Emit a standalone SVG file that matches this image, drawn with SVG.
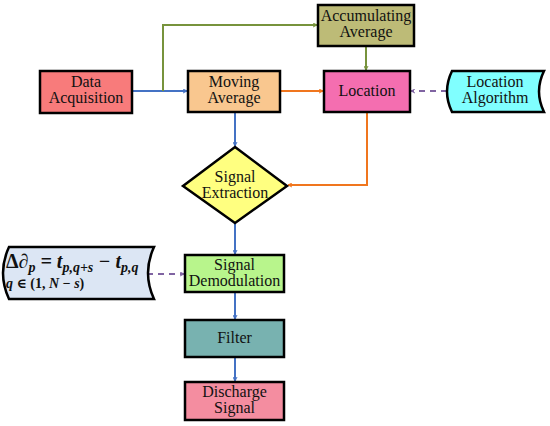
<svg xmlns="http://www.w3.org/2000/svg" width="550" height="426" viewBox="0 0 550 426">
<style>
.box{stroke:#000;stroke-width:2.5}
.lbl{font-family:'Liberation Serif','DejaVu Serif',serif;font-size:16px;fill:#111;text-anchor:middle}
.c{fill:none;stroke-width:2}
.blue{stroke:#4472C4}
.green{stroke:#77933C}
.orange{stroke:#F0761E}
.purple{stroke:#8064A2;stroke-dasharray:6,5;stroke-width:2.2}
.eq{font-family:'Liberation Serif','DejaVu Serif',serif;font-weight:bold;font-style:italic;fill:#111}
</style>
<defs>
<marker id="ab" viewBox="0 0 10 10" refX="9" refY="5" markerWidth="5" markerHeight="5" orient="auto" markerUnits="userSpaceOnUse"><path d="M1,1 L9,5 L1,9" fill="none" stroke="#4472C4" stroke-width="2"/></marker>
<marker id="ag" viewBox="0 0 10 10" refX="9" refY="5" markerWidth="5" markerHeight="5" orient="auto" markerUnits="userSpaceOnUse"><path d="M1,1 L9,5 L1,9" fill="none" stroke="#77933C" stroke-width="2"/></marker>
<marker id="ao" viewBox="0 0 10 10" refX="9" refY="5" markerWidth="5" markerHeight="5" orient="auto" markerUnits="userSpaceOnUse"><path d="M1,1 L9,5 L1,9" fill="none" stroke="#F0761E" stroke-width="2"/></marker>
<marker id="ap" viewBox="0 0 10 10" refX="9" refY="5" markerWidth="5" markerHeight="5" orient="auto" markerUnits="userSpaceOnUse"><path d="M1,1 L9,5 L1,9" fill="none" stroke="#8064A2" stroke-width="2"/></marker>
</defs>
<rect width="550" height="426" fill="#fff"/>
<g id="connectors">
<path class="c blue" d="M132,91 H187" marker-end="url(#ab)"/>
<path class="c green" d="M163,91 V25 H317" marker-end="url(#ag)"/>
<path class="c green" d="M366,46 V70" marker-end="url(#ag)"/>
<path class="c orange" d="M280,91 H323" marker-end="url(#ao)"/>
<path class="c purple" d="M447,91 H411" marker-end="url(#ap)"/>
<path class="c orange" d="M367,113 V185 H288" marker-end="url(#ao)"/>
<path class="c blue" d="M235,112 V146" marker-end="url(#ab)"/>
<path class="c blue" d="M235,223 V254" marker-end="url(#ab)"/>
<path class="c blue" d="M235,292 V319" marker-end="url(#ab)"/>
<path class="c blue" d="M235,357 V381" marker-end="url(#ab)"/>
<path class="c purple" d="M147,274 H184" marker-end="url(#ap)"/>
</g>
<g id="data-acquisition">
<rect class="box" x="40" y="71" width="92" height="42" fill="#F87B7B"/>
<text class="lbl" x="86" y="87">Data</text>
<text class="lbl" x="86" y="103">Acquisition</text>
</g>
<g id="moving-average">
<rect class="box" x="188" y="71" width="92" height="41" fill="#F9C78F"/>
<text class="lbl" x="234" y="87">Moving</text>
<text class="lbl" x="234" y="103">Average</text>
</g>
<g id="accumulating-average">
<rect class="box" x="318" y="5" width="96" height="41" fill="#BDBB77"/>
<text class="lbl" x="366" y="21">Accumulating</text>
<text class="lbl" x="366" y="37">Average</text>
</g>
<g id="location">
<rect class="box" x="324" y="71" width="86" height="41" fill="#F46EB0"/>
<text class="lbl" x="367" y="96">Location</text>
</g>
<g id="location-algorithm">
<path class="box" d="M452,71 H544 Q534,91.5 544,112 H452 Q442,91.5 452,71 Z" fill="#80FFFF"/>
<text class="lbl" x="495" y="87">Location</text>
<text class="lbl" x="495" y="103">Algorithm</text>
</g>
<g id="signal-extraction">
<path class="box" d="M235,147 L287,186 L235,223 L183,186 Z" fill="#FFFF80"/>
<text class="lbl" x="235" y="182">Signal</text>
<text class="lbl" x="235" y="198">Extraction</text>
</g>
<g id="equation">
<path class="box" d="M9,247 H154 Q142,273 154,299 H9 Q-3,273 9,247 Z" fill="#DCE6F4"/>
<text class="eq" x="6" y="268" font-size="20"><tspan font-style="normal">Δ</tspan>∂<tspan font-size="14" dy="4">p</tspan><tspan dy="-4"> = t</tspan><tspan font-size="14" dy="4">p,q+s</tspan><tspan dy="-4"> − t</tspan><tspan font-size="14" dy="4">p,q</tspan></text>
<text class="eq" x="6" y="288" font-size="14">q <tspan font-style="normal">∈ (1,</tspan> N <tspan font-style="normal">−</tspan> s<tspan font-style="normal">)</tspan></text>
</g>
<g id="signal-demodulation">
<rect class="box" x="185" y="255" width="99" height="37" fill="#B8F58C"/>
<text class="lbl" x="234.5" y="270">Signal</text>
<text class="lbl" x="234.5" y="286">Demodulation</text>
</g>
<g id="filter">
<rect class="box" x="185" y="320" width="99" height="37" fill="#78B2B0"/>
<text class="lbl" x="234.5" y="343">Filter</text>
</g>
<g id="discharge-signal">
<rect class="box" x="185" y="382" width="99" height="38" fill="#F48DA0"/>
<text class="lbl" x="234.5" y="397">Discharge</text>
<text class="lbl" x="234.5" y="413">Signal</text>
</g>
</svg>
